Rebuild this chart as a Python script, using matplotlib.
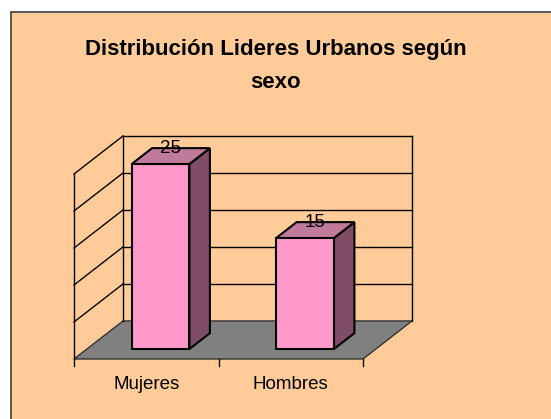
import matplotlib
matplotlib.use("Agg")
import matplotlib.pyplot as plt
from matplotlib.patches import Polygon, Rectangle

categorias = ["Mujeres", "Hombres"]
valores = [25, 15]
titulo = ["Distribución Lideres Urbanos según", "sexo"]
ymax = 25
grid_step = 5

plt.rcParams['font.family'] = ['Liberation Sans', 'DejaVu Sans']

# depth offset of the oblique 3D look (in data units)
DX, DY = 0.339, 5.14
bar_w = 0.40
d0, d1 = 0.26, 0.68

def P(x, y, d):
    return (x + d * DX, y + d * DY)

fig = plt.figure(figsize=(5.51, 4.19), dpi=100)
fig.patch.set_facecolor("white")

ax = fig.add_axes([0, 0, 1, 1])
ax.set_xlim(-74 / 144.5, (551 - 74) / 144.5)
ax.set_ylim(-60 / 7.4, (419 - 60) / 7.4)
ax.axis("off")

ax.add_patch(Rectangle((10.5 / 551, -0.05), 1.1, 1 - 12.5 / 419 + 0.05,
                       transform=fig.transFigure, facecolor="#FFCC99",
                       edgecolor="#404040", linewidth=1.2, zorder=0, clip_on=False))

n = len(categorias)
lc = "black"

# floor
ax.add_patch(Polygon([P(0, 0, 0), P(n, 0, 0), P(n, 0, 1), P(0, 0, 1)],
                     closed=True, facecolor="#808080", edgecolor="#333333", lw=1, zorder=1))

# back wall and left wall lines
for v in range(grid_step, ymax + 1, grid_step):
    ax.plot(*zip(P(0, v, 1), P(n, v, 1)), color=lc, lw=1, zorder=2)
    ax.plot(*zip(P(0, v, 1), P(0, v, 0)), color=lc, lw=1, zorder=2)
ax.plot(*zip(P(0, 0, 1), P(0, ymax, 1)), color=lc, lw=1, zorder=2)
ax.plot(*zip(P(n, 0, 1), P(n, ymax, 1)), color=lc, lw=1, zorder=2)
ax.plot(*zip(P(0, 0, 0), P(0, ymax, 0)), color=lc, lw=1, zorder=2)

# category ticks
for i in range(n + 1):
    ax.plot([i, i], [0, -0.9], color=lc, lw=1, zorder=2)

# bars
for i, (cat, v) in enumerate(zip(categorias, valores)):
    x0 = i + 0.51 - bar_w / 2
    x1 = x0 + bar_w
    top = [P(x0, v, d0), P(x1, v, d0), P(x1, v, d1), P(x0, v, d1)]
    side = [P(x1, 0, d0), P(x1, 0, d1), P(x1, v, d1), P(x1, v, d0)]
    front = [P(x0, 0, d0), P(x1, 0, d0), P(x1, v, d0), P(x0, v, d0)]
    ax.add_patch(Polygon(side, closed=True, facecolor="#804D66", edgecolor=lc, lw=1.5, zorder=3))
    ax.add_patch(Polygon(top, closed=True, facecolor="#C07A9A", edgecolor=lc, lw=1.5, zorder=3))
    ax.add_patch(Polygon(front, closed=True, facecolor="#FF99CC", edgecolor=lc, lw=1.5, zorder=4))
    lx, ly = P((x0 + x1) / 2, v, (d0 + d1) / 2)
    ax.text(lx, v + d1 * DY, str(v), ha="center", va="center", fontsize=13.5, zorder=5)
    ax.text(i + 0.5, -3.4, cat, ha="center", va="center", fontsize=13.5)

fig.text(0.5, 1 - 50 / 419, titulo[0], ha="center", va="center", fontsize=16, fontweight="bold")
fig.text(0.5, 1 - 83 / 419, titulo[1], ha="center", va="center", fontsize=16, fontweight="bold")

fig.savefig("out.png", dpi=100)
